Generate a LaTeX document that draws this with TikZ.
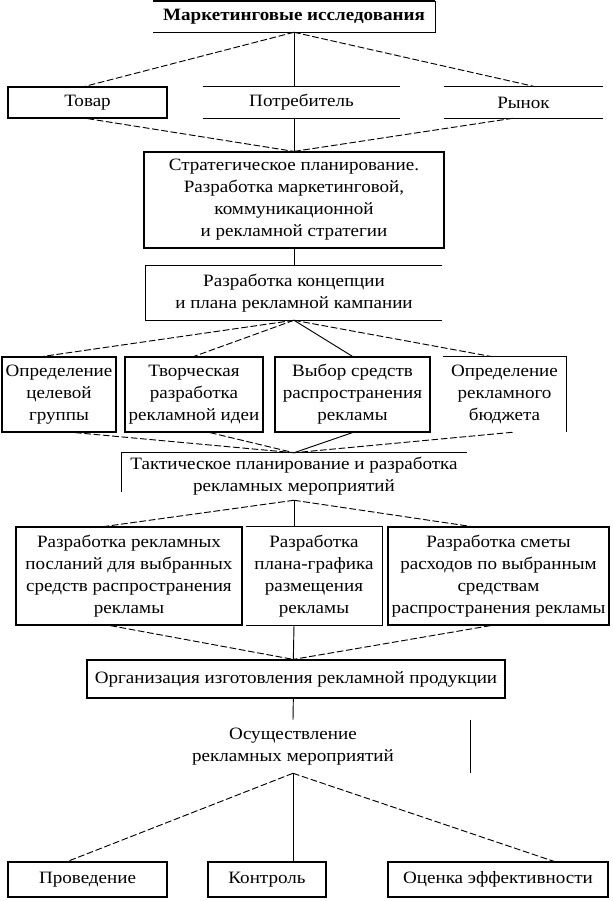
\documentclass[tikz,border=0pt]{standalone}
\usepackage{fontspec}
\setmainfont[FakeStretch=1.1]{Liberation Serif}
\usetikzlibrary{positioning}

\begin{document}
\begin{tikzpicture}[
    x=0.75pt, y=-0.75pt,
    font=\fontsize{13}{16.5}\selectfont,
    sized/.style 2 args={minimum width=#1*0.75pt, minimum height=#2*0.75pt},
    box/.style={draw, align=center, inner sep=1pt, line width=0.9pt},
    bare/.style={align=center, inner sep=1pt},
    edge/.style={line width=0.9pt},
    heavy/.style={line width=2pt},
    link/.style={dash pattern=on 5pt off 2pt, line width=0.7pt},
    spine/.style={line width=0.7pt}
  ]
  \useasboundingbox (0,0) rectangle (613,901);

  % research and its three objects
  \node[bare, sized={282}{31}] (research) at (294,16.5) {\textbf{Маркетинговые исследования}};
  \node[box, sized={159}{31}] (tovar) at (87.5,102.5) {Товар};
  \node[bare, sized={197}{31}] (potreb) at (301.5,102.5) {Потребитель};
  \node[bare, sized={159}{31}] (rynok) at (523.5,102.5) {Рынок};

  % strategy and concept
  \node[box, sized={300}{96}] (strateg) at (294,200)
    {Стратегическое планирование.\\ Разработка маркетинговой,\\ коммуникационной\\ и рекламной стратегии};
  \node[bare, sized={296}{54}] (concept) at (294,293)
    {Разработка концепции\\ и плана рекламной кампании};

  % four parts of the concept
  \node[box, sized={114}{75}] (target) at (59,394.5) {Определение\\ целевой\\ группы};
  \node[box, sized={138}{75}] (idea) at (194,394.5) {Творческая\\ разработка\\ рекламной идеи};
  \node[box, sized={155}{75}] (media) at (352.5,394.5) {Выбор средств\\ распространения\\ рекламы};
  \node[bare, sized={123}{75}] (budget) at (504.5,394.5) {Определение\\ рекламного\\ бюджета};

  % tactics
  \node[bare, sized={345}{47}] (tactic) at (294,476.5)
    {Тактическое планирование и разработка\\ рекламных мероприятий};
  \node[box, sized={226}{98}] (message) at (129,576)
    {Разработка рекламных\\ посланий для выбранных\\ средств распространения\\ рекламы};
  \node[bare, sized={136}{98}] (schedule) at (314,576)
    {Разработка\\ плана-графика\\ размещения\\ рекламы};
  \node[box, sized={221}{98}] (estimate) at (498.5,576)
    {Разработка сметы\\ расходов по выбранным\\ средствам\\ распространения рекламы};
  \node[box, sized={418}{38}] (produce) at (296,679) {Организация изготовления рекламной продукции};

  % running the campaign
  \node[bare, sized={354}{53}] (implement) at (293,746.5) {Осуществление\\ рекламных мероприятий};
  \node[box, sized={159}{35}] (conduct) at (87.5,879.5) {Проведение};
  \node[box, sized={118}{35}] (control) at (267,879.5) {Контроль};
  \node[box, sized={220}{35}] (assess) at (498,879.5) {Оценка эффективности};

  % open boxes
  \draw[heavy] (research.north west) -- (research.north east);
  \draw[edge] (research.north east) -- (research.south east) -- (research.south west);
  \draw[edge] (potreb.north west) -- (potreb.north east);
  \draw[edge] (potreb.south west) -- (potreb.south east);
  \draw[edge] (rynok.north west) -- (rynok.north east);
  \draw[edge] (rynok.south west) -- (rynok.south east);
  \draw[edge] (concept.north east) -- (concept.north west) -- (concept.south west) -- (concept.south east);
  \draw[edge] (budget.north west) -- (budget.north east) -- (budget.south east);
  \draw[edge] (tactic.north east) -- (tactic.north west) -- ([yshift=6pt]tactic.south west);
  \draw[edge] (schedule.north west) -- (schedule.north east) -- (schedule.south east) -- (schedule.south west);
  \draw[edge] (implement.north east) -- (implement.south east);

  % connectors
  \draw[link] (research.south) -- ([xshift=-2pt]tovar.north);
  \draw[spine] (research.south) -- (research.south |- potreb.north);
  \draw[link] (research.south) -- ([xshift=9pt]rynok.north);
  \draw[link] (tovar.south) -- (strateg.north);
  \draw[spine] (potreb.south -| strateg.north) -- (strateg.north);
  \draw[link] ([xshift=-8pt]rynok.south) -- (strateg.north);
  \draw[spine] (strateg.south) -- (concept.north);
  \draw[link] (concept.south) -- ([xshift=-12pt]target.north);
  \draw[link] (concept.south) -- (idea.north);
  \draw[spine] (concept.south) -- (media.north);
  \draw[link] (concept.south) -- ([xshift=-9pt]budget.north);
  \draw[link] ([xshift=12pt]target.south) -- (tactic.north);
  \draw[link] ([xshift=12pt]idea.south) -- (tactic.north);
  \draw[spine] (media.south) -- (tactic.north);
  \draw[link] ([xshift=6pt]budget.south) -- (tactic.north);
  \draw[link] (tactic.south) -- ([xshift=-18pt]message.north);
  \draw[spine] (tactic.south) -- (tactic.south |- schedule.north);
  \draw[link] (tactic.south) -- ([xshift=-21pt]estimate.north);
  \draw[link] ([xshift=-14pt]message.south) -- ([xshift=-2pt]produce.north);
  \draw[spine] (schedule.south -| tactic.south) -- ([xshift=-2pt]produce.north);
  \draw[link] ([xshift=-6pt]estimate.south) -- ([xshift=-2pt]produce.north);
  \draw[spine] ([xshift=-2pt]produce.south) -- (implement.north);
  \draw[link] (implement.south) -- ([xshift=-15pt]conduct.north);
  \draw[spine] (implement.south) -- (implement.south |- control.north);
  \draw[link] (implement.south) -- ([xshift=42pt]assess.north);
\end{tikzpicture}
\end{document}
